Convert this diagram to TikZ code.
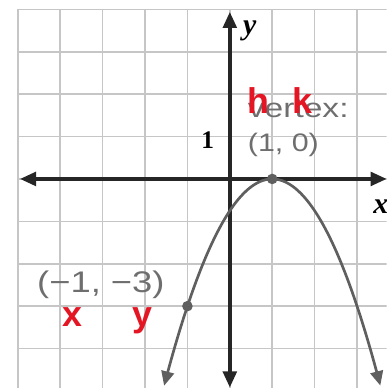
\documentclass[tikz,border=0pt]{standalone}
\usepackage{fontspec}
\usepackage{graphicx}
\setmainfont{Liberation Serif}
\newfontfamily\plainsans{Liberation Sans}
\usetikzlibrary{arrows.meta}
\usetikzlibrary{positioning}
\definecolor{markred}{RGB}{228,22,36}
\definecolor{labelgray}{RGB}{110,110,110}
\definecolor{curvegray}{RGB}{95,95,95}

\begin{document}
\begin{tikzpicture}[gridline/.style={draw=gray!45, line width=1.1pt},
    axis/.style={draw=black!85, line width=2.4pt, {Triangle[length=0.38cm,width=0.32cm]}-{Triangle[length=0.38cm,width=0.32cm]}},
    curve/.style={draw=curvegray, line width=1.8pt, {Triangle[length=0.34cm,width=0.3cm]}-{Triangle[length=0.34cm,width=0.3cm]}},
    dot/.style={circle, fill=curvegray, inner sep=0pt, minimum size=0.25cm},
    graytext/.style={text=labelgray, inner sep=0pt, font=\plainsans\fontsize{17}{20}\selectfont},
    redmark/.style={text=markred, inner sep=0pt, font=\plainsans\bfseries\fontsize{24}{28}\selectfont},
    axislabel/.style={inner sep=0pt, font=\bfseries\itshape\fontsize{20}{24}\selectfont}]
          \useasboundingbox (-5.42,-4.93) rectangle (3.70,4.22);

          \begin{scope}
            \clip (-5.42,-4.93) rectangle (3.70,4.22);
            \draw[gridline] (-5,-5) grid (3.8,4);
          \end{scope}

          \coordinate (xleft) at (-4.95,0);
          \coordinate (xright) at (3.70,0);
          \coordinate (ytop) at (0,3.94);
          \coordinate (ybottom) at (0,-4.92);

          \draw[axis] (xleft) -- (xright);
          \draw[axis] (ybottom) -- (ytop);

          \draw[curve] plot[domain=-1.55:3.55, samples=80, smooth] (\x, {-0.75*(\x-1)^2});

          \node[dot] (vertex) at (1,0) {};

          \node[dot] (point) at (-1,-3) {};

          \node[axislabel] (ylabel) at (0.47,3.49) {y};

          \node[axislabel] (xlabel) at (3.56,-0.66) {x};

          \node[inner sep=0pt, font=\bfseries\fontsize{17}{20}\selectfont] (one) at (-0.52,0.92) {1};

          \node[graytext, anchor=base west, font=\plainsans\fontsize{18}{20}\selectfont] (vertexword) at (0.42,1.46) {\scalebox{1.25}[1]{vertex:}};

          \node[graytext, anchor=base west] (vertexpair) at (0.42,0.64) {\scalebox{1.2}[1]{(1, 0)}};

          \node[graytext, anchor=base west, font=\plainsans\fontsize{20}{24}\selectfont] (pointpair) at (-4.55,-2.67) {\scalebox{1.22}[1]{(−1, −3)}};

          \node[redmark, anchor=base west] (hmark) at (0.42,1.55) {h};

          \node[redmark, anchor=base west] (kmark) at (1.46,1.55) {k};

          \node[redmark, anchor=base west] (xmark) at (-3.96,-3.49) {x};

          \node[redmark, anchor=base west] (ymark) at (-2.31,-3.49) {y};
        \end{tikzpicture}
\end{document}
